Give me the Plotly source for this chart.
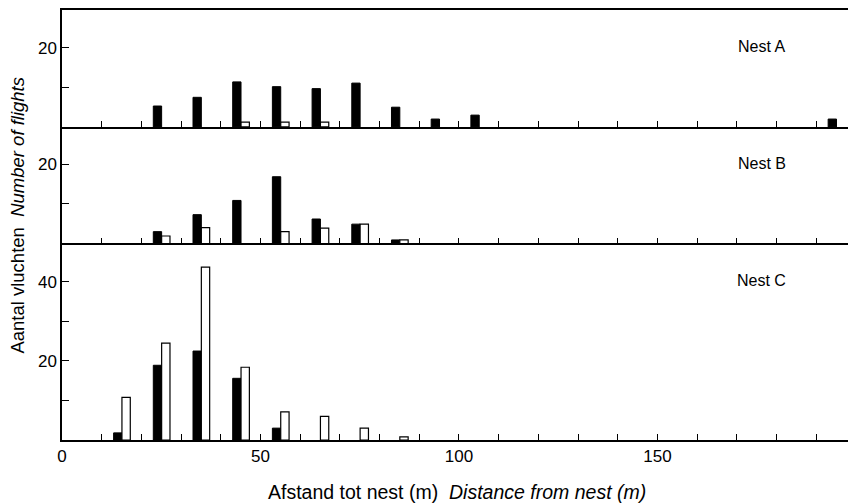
import plotly.graph_objects as go
from plotly.subplots import make_subplots

# Distance bins (start of each 10 m bin)
bin_start_m = [10, 20, 30, 40, 50, 60, 70, 80, 90, 100, 110, 120, 130, 140, 150, 160, 170, 180, 190]

# Nest A
nest_a_black = [0, 5.3, 7.5, 11.4, 10.2, 9.7, 11.1, 5.0, 2.0, 3.0, 0, 0, 0, 0, 0, 0, 0, 0, 2.0]
nest_a_white = [0, 0, 0, 1.2, 1.2, 1.2, 0, 0, 0, 0, 0, 0, 0, 0, 0, 0, 0, 0, 0]
# Nest B
nest_b_black = [0, 3.0, 7.3, 10.9, 16.9, 6.2, 4.9, 0.9, 0, 0, 0, 0, 0, 0, 0, 0, 0, 0, 0]
nest_b_white = [0, 1.9, 4.0, 0, 3.0, 3.9, 4.9, 0.9, 0, 0, 0, 0, 0, 0, 0, 0, 0, 0, 0]
# Nest C
nest_c_black = [1.8, 18.9, 22.5, 15.6, 3.0, 0, 0, 0, 0, 0, 0, 0, 0, 0, 0, 0, 0, 0, 0]
nest_c_white = [10.8, 24.5, 43.7, 18.4, 7.1, 6.0, 3.0, 0.8, 0, 0, 0, 0, 0, 0, 0, 0, 0, 0, 0]

nest_labels = ["Nest A", "Nest B", "Nest C"]
x_tick_labels = ["0", "50", "100", "150"]

FONT = "Liberation Sans, Arial, sans-serif"

fig = make_subplots(rows=3, cols=1, vertical_spacing=0)


def nz(vals):
    return [v if v else None for v in vals]


panels = [(nest_a_black, nest_a_white), (nest_b_black, nest_b_white), (nest_c_black, nest_c_white)]
for i, (blk, wht) in enumerate(panels, start=1):
    fig.add_trace(go.Bar(x=bin_start_m, y=nz(blk), width=2.1, offset=3.0,
                         marker=dict(color="black", line=dict(color="black", width=1)),
                         showlegend=False), row=i, col=1)
    fig.add_trace(go.Bar(x=bin_start_m, y=nz(wht), width=2.1, offset=5.1,
                         marker=dict(color="white", line=dict(color="black", width=1.2)),
                         showlegend=False), row=i, col=1)

domains = [[0.728, 1.0], [0.457, 0.728], [0.0, 0.457]]
yranges = [[0, 29.6], [0, 29.5], [0, 49.7]]
ymajor = [[20], [20], [20, 40]]
yminor = [[10], [10], [10, 30]]

for i in range(3):
    fig.update_yaxes(row=i + 1, col=1, domain=domains[i], range=yranges[i],
                     showline=True, linecolor="black", linewidth=1.5,
                     ticks="inside", ticklen=7, tickcolor="black", tickwidth=1,
                     tickmode="array", tickvals=ymajor[i],
                     minor=dict(tickmode="array", tickvals=yminor[i], ticks="inside",
                                ticklen=7, tickcolor="black", tickwidth=1),
                     showgrid=False, zeroline=False,
                     tickfont=dict(family=FONT, size=17, color="black"))
    fig.update_xaxes(row=i + 1, col=1, range=[0, 198],
                     showline=True, linecolor="black", linewidth=1.5,
                     mirror=(i == 0),
                     ticks="inside", ticklen=6, tickcolor="black", tickwidth=1,
                     tickmode="array", tickvals=[0, 50, 100, 150], ticktext=x_tick_labels,
                     minor=dict(tickmode="linear", tick0=0, dtick=10, ticks="inside",
                                ticklen=6, tickcolor="black", tickwidth=1),
                     showticklabels=(i == 2),
                     showgrid=False, zeroline=False,
                     tickfont=dict(family=FONT, size=17, color="black"))

annotations = []
label_y = [0.914, 0.644, 0.370]
for lbl, yy in zip(nest_labels, label_y):
    annotations.append(dict(text=lbl, x=0.89, y=yy, xref="paper", yref="paper",
                            showarrow=False, xanchor="center", yanchor="middle",
                            font=dict(family=FONT, size=16, color="black")))
annotations.append(dict(text="Afstand tot nest (m)  <i>Distance from nest (m)</i>",
                        x=0.5025, y=-0.121, xref="paper", yref="paper", showarrow=False,
                        xanchor="center", yanchor="middle",
                        font=dict(family=FONT, size=19.5, color="black")))
annotations.append(dict(text="Aantal vluchten  <i>Number of flights</i>",
                        x=-0.0566, y=0.523, xref="paper", yref="paper", showarrow=False,
                        xanchor="center", yanchor="middle", textangle=-90,
                        font=dict(family=FONT, size=18.5, color="black")))

fig.update_layout(width=851, height=504, barmode="overlay",
                  margin=dict(l=62, r=3, t=10, b=64),
                  paper_bgcolor="white", plot_bgcolor="white",
                  annotations=annotations, font=dict(family=FONT, color="black"))

fig.write_html("out.html", config={"displayModeBar": False},
               post_script="document.body.style.margin='0';document.body.style.padding='0';")
